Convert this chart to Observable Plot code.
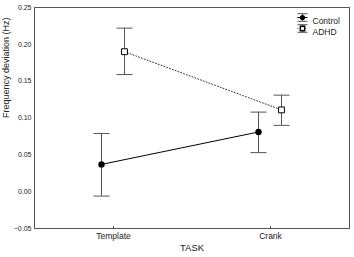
<!DOCTYPE html>
<html>
<head>
<meta charset="utf-8">
<script src="https://cdn.jsdelivr.net/npm/d3@7"></script>
<script src="https://cdn.jsdelivr.net/npm/@observablehq/plot@0.6"></script>
<style>
  html, body { margin: 0; padding: 0; background: #fff; }
  #chart svg { display: block; }
</style>
</head>
<body>
<div id="chart"></div>
<script>
const categories = ["Template", "Crank"];
const groups = ["Control", "ADHD"];
const controlMean = [0.037, 0.081];
const controlLow = [-0.006, 0.053];
const controlHigh = [0.079, 0.108];
const adhdMean = [0.190, 0.111];
const adhdLow = [0.159, 0.090];
const adhdHigh = [0.222, 0.131];
const yTicks = [-0.05, 0.00, 0.05, 0.10, 0.15, 0.20, 0.25];
const xTitle = "TASK";
const yTitle = "Frequency deviation (Hz)";

const control = categories.map((c, i) => ({task: c, mean: controlMean[i], lo: controlLow[i], hi: controlHigh[i]}));
const adhd = categories.map((c, i) => ({task: c, mean: adhdMean[i], lo: adhdLow[i], hi: adhdHigh[i]}));

const fmt = d3.format(".2f");
const barColor = "#555";
const font = "'Liberation Sans', Arial, sans-serif";

// custom symbols
const ibeam = {
  draw(ctx, size) {
    const w = 5, h = 3.8;
    ctx.moveTo(-w, -h); ctx.lineTo(w, -h);
    ctx.moveTo(-w, h); ctx.lineTo(w, h);
    ctx.moveTo(0, -h); ctx.lineTo(0, h);
  }
};
const midline = {
  draw(ctx, size) {
    ctx.moveTo(-5, 0); ctx.lineTo(5, 0);
  }
};
const cap = {
  draw(ctx, size) {
    ctx.moveTo(-8, 0); ctx.lineTo(8, 0);
  }
};

const dxC = -12, dxA = 11;

function series(data, dx, lineOpts, dotOpts) {
  return [
    Plot.line(data, {x: "task", y: "mean", dx, ...lineOpts}),
    Plot.ruleX(data, {x: "task", y1: "lo", y2: "hi", dx, stroke: barColor, strokeWidth: 1}),
    Plot.dot(data, {x: "task", y: "lo", dx, symbol: cap, fill: "none", stroke: barColor, strokeWidth: 1}),
    Plot.dot(data, {x: "task", y: "hi", dx, symbol: cap, fill: "none", stroke: barColor, strokeWidth: 1}),
    Plot.dot(data, {x: "task", y: "mean", dx, ...dotOpts})
  ];
}

function legendItem(name, dy, midOpts, markerOpts) {
  const base = {frameAnchor: "top-right", dx: -47, dy};
  return [
    Plot.dot([name], {...base, symbol: ibeam, stroke: barColor, strokeWidth: 1, fill: "none"}),
    Plot.dot([name], {...base, symbol: midline, fill: "none", strokeWidth: 1, ...midOpts}),
    Plot.dot([name], {...base, ...markerOpts}),
    Plot.text([name], {frameAnchor: "top-right", dx: -37, dy, text: d => d, textAnchor: "start", fontSize: 8.5, fill: "#222"})
  ];
}

const chart = Plot.plot({
  width: 354,
  height: 257,
  marginLeft: 34,
  marginRight: 5,
  marginTop: 7,
  marginBottom: 29,
  style: {fontFamily: font, fontSize: "7px", color: "#222", background: "#fff"},
  x: {type: "point", domain: categories, padding: 0.5},
  y: {domain: [-0.05, 0.25]},
  marks: [
    Plot.axisY({ticks: yTicks, tickFormat: fmt, tickSize: 0, tickPadding: 3, fontSize: 7, label: null}),
    Plot.axisX({tickSize: -2, tickPadding: 6, fontSize: 8.5, stroke: barColor, label: null}),
    Plot.text([yTitle], {frameAnchor: "left", rotate: -90, dx: -28, text: d => d, fontSize: 9, fill: "#222"}),
    Plot.text([xTitle], {frameAnchor: "bottom", dy: 22, text: d => d, fontSize: 9.5, fill: "#222"}),
    Plot.frame({stroke: "#555", strokeWidth: 1}),
    ...series(adhd, dxA, {stroke: "#333", strokeWidth: 1, strokeDasharray: "1,2"},
      {symbol: "square", r: 3.3, fill: "#fff", stroke: "#000", strokeWidth: 1}),
    ...series(control, dxC, {stroke: "#000", strokeWidth: 1},
      {symbol: "circle", r: 3.2, fill: "#000"}),
    ...legendItem(groups[0], 10, {stroke: "#000"}, {symbol: "circle", r: 2.6, fill: "#000"}),
    ...legendItem(groups[1], 21, {stroke: "#333", strokeDasharray: "1,1.5"}, {symbol: "square", r: 2.4, fill: "#fff", stroke: "#000"})
  ]
});

document.getElementById("chart").appendChild(chart);
</script>
</body>
</html>
